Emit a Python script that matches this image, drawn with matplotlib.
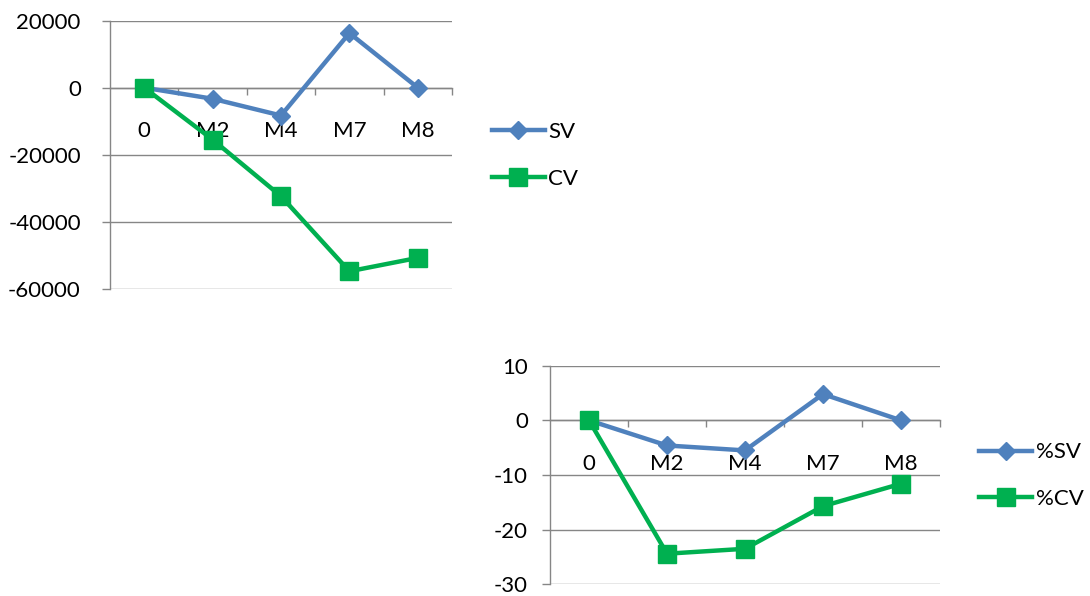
import matplotlib
matplotlib.use("Agg")
import matplotlib.pyplot as plt
from matplotlib.ticker import MultipleLocator, FixedLocator

plt.rcParams['font.family'] = ['Lato', 'DejaVu Sans']
plt.rcParams['axes.unicode_minus'] = False

# Data
categories = ["0", "M2", "M4", "M7", "M8"]
sv = [0, -3300, -8300, 16300, 0]
cv = [0, -15500, -32400, -54800, -50800]
pct_sv = [0, -4.6, -5.5, 4.8, 0]
pct_cv = [0, -24.4, -23.5, -15.7, -11.6]

BLUE = "#4F81BD"
GREEN = "#00B050"
GRID = "#868686"
FS = 16

W, H = 1090, 596
fig = plt.figure(figsize=(W / 100, H / 100), dpi=100)


def make_axes(rect, ylim, ystep, ypad, s1, s2, n1, n2, leg_anchor):
    ax = fig.add_axes(rect)
    x = list(range(len(categories)))
    ax.set_xlim(-0.5, len(categories) - 0.5)
    ax.set_ylim(*ylim)
    ax.yaxis.set_major_locator(MultipleLocator(ystep))
    ax.grid(axis='y', color=GRID, linewidth=1.0, zorder=0)
    ax.set_axisbelow(True)
    for s in ("top", "right"):
        ax.spines[s].set_visible(False)
    ax.spines['left'].set_color(GRID)
    ax.spines['left'].set_linewidth(1.0)
    ax.spines['bottom'].set_position(('data', 0))
    ax.spines['bottom'].set_color(GRID)
    ax.spines['bottom'].set_linewidth(1.0)
    ax.tick_params(axis='y', which='major', direction='out', length=6, width=1.0,
                   color=GRID, pad=ypad, labelsize=FS)
    ax.set_xticks(x)
    ax.set_xticklabels(categories)
    ax.xaxis.set_minor_locator(FixedLocator([i + 0.5 for i in range(len(categories))]))
    ax.tick_params(axis='x', which='major', length=0, pad=24, labelsize=FS)
    ax.tick_params(axis='x', which='minor', direction='out', length=5, width=1.0, color=GRID)

    l1, = ax.plot(x, s1, color=BLUE, linewidth=3.2, marker='D', markersize=9,
                  markerfacecolor=BLUE, markeredgecolor=BLUE, label=n1, zorder=3)
    l2, = ax.plot(x, s2, color=GREEN, linewidth=3.2, marker='s', markersize=13,
                  markerfacecolor=GREEN, markeredgecolor=GREEN, label=n2, zorder=4)
    fig.legend(handles=[l1, l2], loc='center left', bbox_to_anchor=leg_anchor,
               frameon=False, fontsize=FS, handlelength=2.4, handletextpad=0.15,
               labelspacing=1.2, borderpad=0, borderaxespad=0, numpoints=1)
    return ax


make_axes([110 / W, 1 - 288.7 / H, 342 / W, 268 / H], (-60000, 20000), 20000, 15,
          sv, cv, "SV", "CV", (491.7 / W, 1 - 155.5 / H))
make_axes([550 / W, 1 - 584.3 / H, 390 / W, 218.6 / H], (-30, 10), 10, 10,
          pct_sv, pct_cv, "%SV", "%CV", (979 / W, 1 - 475.8 / H))

fig.savefig("out.png", dpi=100)
